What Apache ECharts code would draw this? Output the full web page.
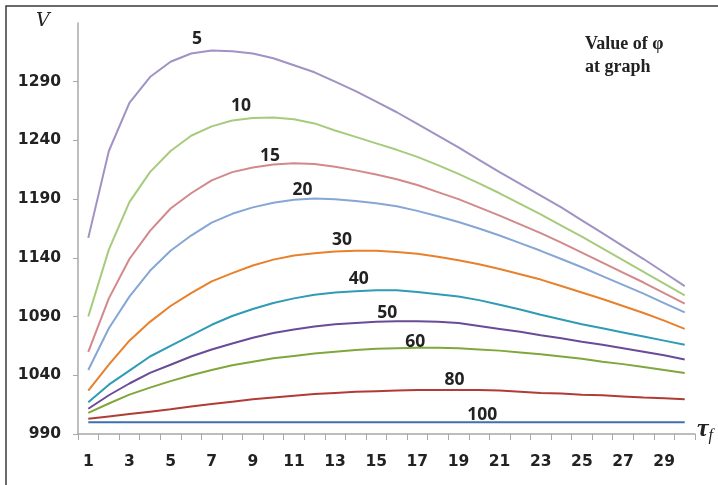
<!DOCTYPE html>
<html>
<head>
<meta charset="utf-8">
<script src="https://cdn.jsdelivr.net/npm/echarts@6/dist/echarts.min.js"></script>
<style>html,body{margin:0;padding:0;background:#fff;}#c{width:718px;height:485px;}</style>
</head>
<body>
<div id="c"></div>
<script>
// ---- data ----
var categories = ['1','2','3','4','5','6','7','8','9','10','11','12','13','14','15','16','17','18','19','20','21','22','23','24','25','26','27','28','29','30'];
var phiNames = ['5','10','15','20','30','40','50','60','80','100'];
var v5   = [1157,1231,1272,1294,1307,1314,1316.5,1316,1314,1310,1304,1298,1290,1282,1273,1264,1254,1244,1234,1223.5,1213,1203,1193,1183,1172,1161,1150,1139,1127.5,1116];
var v10  = [1090,1147,1187.5,1213,1231,1244,1252,1257,1259,1259.5,1258,1254.5,1248.5,1243,1237.5,1232,1226,1219,1211.5,1203.5,1195,1186,1177,1167.5,1158,1148,1138,1128,1118,1108];
var v15  = [1060,1105.5,1139,1163,1182,1195,1206,1213,1217,1219.5,1220.5,1220,1217.5,1214.5,1211,1207,1202,1196,1190,1183,1176,1168.5,1161,1153,1144.5,1136,1127.5,1119,1110,1101];
var v20  = [1044.5,1080,1107,1129,1146,1159,1170,1177.5,1183,1187,1189.5,1190.5,1190,1188.5,1186.5,1184,1180,1175.5,1170.5,1165,1159,1152.5,1146,1139,1132,1124.5,1117,1109.5,1101.5,1093.5];
var v30  = [1027,1049,1069.5,1085.5,1099,1110,1120,1127,1133.5,1138.5,1142,1144,1145.5,1146,1146,1145,1143.5,1141,1138,1134.5,1130.5,1126,1121.5,1116,1110.5,1105,1099,1093,1086.5,1079.5];
var v40  = [1017,1032,1044,1056,1065,1074,1083,1090.5,1096.5,1101.5,1105.5,1108.5,1110.5,1111.5,1112.5,1112.5,1111,1109,1107,1104,1100,1096,1091.5,1087.5,1083.5,1080,1076.5,1073,1069.5,1066];
var v50  = [1011.5,1023,1033,1042,1049,1056,1062,1067,1072,1076,1079,1081.5,1083.5,1084.5,1085.5,1086,1086,1085.5,1084.5,1082,1079.5,1077,1074,1071.5,1068.5,1066,1063,1060,1057,1053.5];
var v60  = [1008,1016,1023.5,1029.5,1035,1040,1044.5,1048.5,1051.5,1054.5,1056.5,1058.5,1060,1061.5,1062.5,1063,1063.5,1063.5,1063,1062,1061,1059.5,1058,1056,1054,1051.5,1049.5,1047,1044.5,1042];
var v80  = [1003,1005,1007,1009,1011,1013.5,1015.5,1017.5,1019.5,1021,1022.5,1024,1025,1026,1026.5,1027,1027.5,1027.5,1027.5,1027.5,1027,1026,1025,1024.5,1023.5,1023,1022,1021,1020.5,1019.5];
var v100 = [1000,1000,1000,1000,1000,1000,1000,1000,1000,1000,1000,1000,1000,1000,1000,1000,1000,1000,1000,1000,1000,1000,1000,1000,1000,1000,1000,1000,1000,1000];
var yTicks = [990,1040,1090,1140,1190,1240,1290];

// ---- styling (not data) ----
var seriesValues = [v5,v10,v15,v20,v30,v40,v50,v60,v80,v100];
var colors = ['#a192c4','#a7cb7c','#d3898a','#86a6d6','#e8802c','#2f9bb4','#694b98','#80a73b','#b03c36','#3e6fb1'];
var labelIdx = [6,8,9,11,12,13,15,16,18,19];
var labelOff = [[-14.8,-11.6],[-11.9,-12.1],[-3.4,-8.5],[-11.9,-8.6],[7,-11.4],[3.1,-12],[-9.6,-8],[-2.2,-6],[-3.9,-10],[3.2,-7.3]];

var series = seriesValues.map(function(vals, i){
  return {
    name: phiNames[i], type: 'line', data: vals, symbol: 'none', smooth: false,
    lineStyle: {color: colors[i], width: 2}, itemStyle: {color: colors[i]},
    z: 10 - i,
    markPoint: {
      symbol: 'circle', symbolSize: 1, itemStyle: {color: 'rgba(0,0,0,0)'},
      data: [{coord: [labelIdx[i], vals[labelIdx[i]]], value: phiNames[i]}],
      label: {show: true, position: 'inside', formatter: phiNames[i], offset: labelOff[i],
        fontFamily: 'Open Sans', fontWeight: 'bold', fontSize: 17.5, color: '#222'}
    }
  };
});

var chart = echarts.init(document.getElementById('c'), null, {renderer: 'canvas'});
chart.setOption({
  animation: false,
  backgroundColor: '#fff',
  grid: {left: 78, right: 23, top: 23, bottom: 51},
  xAxis: {
    type: 'category', data: categories, boundaryGap: true,
    axisLine: {lineStyle: {color: '#a8a8a8', width: 1.5}},
    axisTick: {show: true, interval: 0, length: 6, lineStyle: {color: '#a8a8a8'}},
    axisLabel: {interval: 1, margin: 20, fontFamily: 'DejaVu Sans', fontWeight: 'bold', fontSize: 15.5, color: '#222'},
    splitLine: {show: false}
  },
  yAxis: {
    type: 'value', min: 990, max: 1340, interval: 50,
    axisLine: {show: true, lineStyle: {color: '#a8a8a8', width: 1.5}},
    axisTick: {show: true, length: 5, lineStyle: {color: '#a8a8a8'}},
    axisLabel: {showMaxLabel: false, margin: 17, fontFamily: 'DejaVu Sans', fontWeight: 'bold', fontSize: 15.5, color: '#222',
      formatter: function(v){ return yTicks.indexOf(v) >= 0 ? String(v) : ''; }},
    splitLine: {show: false}
  },
  graphic: [
    {type: 'polyline', shape: {points: [[6, 600], [6, 6], [900, 6]]}, style: {fill: null, stroke: '#3a3a3a', lineWidth: 1.5}, silent: true, z: -1},
    {type: 'text', left: 36, top: 12, style: {text: 'V', font: 'italic 19px "DejaVu Serif"', fill: '#222'}},
    {type: 'text', left: 697, top: 416, style: {text: '{a|τ}{b|f}', rich: {a: {font: 'italic bold 26px "Liberation Serif"', fill: '#222'}, b: {font: 'italic 16px "Liberation Serif"', fill: '#222', padding: [14,0,0,0]}}}},
    {type: 'text', left: 585, top: 33, style: {text: 'Value of φ\nat graph', font: 'bold 18px "Liberation Serif"', lineHeight: 23, fill: '#222'}}
  ],
  series: series
});
</script>
</body>
</html>
